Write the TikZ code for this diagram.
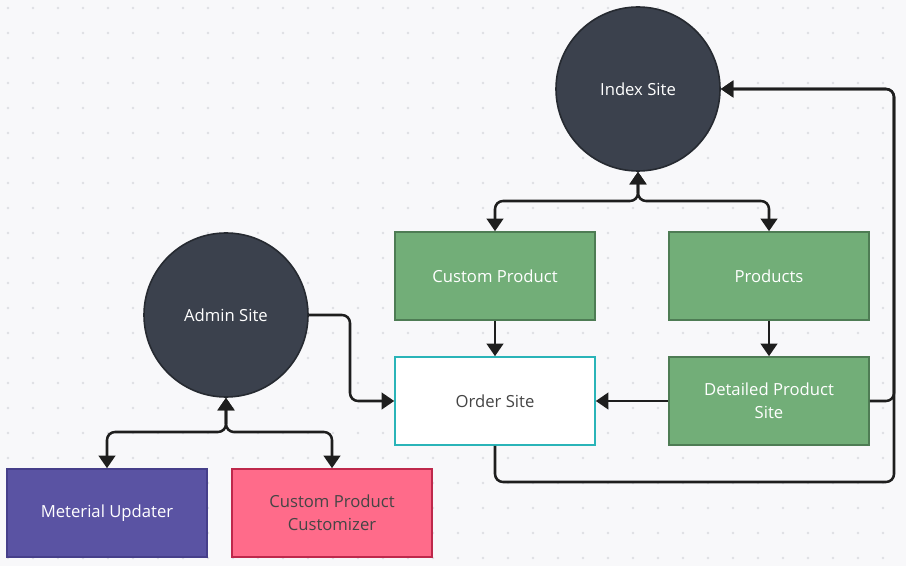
\documentclass[tikz,border=0pt]{standalone}
\usepackage{fontspec}
\setmainfont{Open Sans}
\usepackage{xcolor}
\usepackage{tikz}
\usetikzlibrary{positioning,arrows.meta}

\definecolor{paper}{HTML}{F8F8FA}
\definecolor{dotgray}{HTML}{DEDFE3}
\definecolor{sitefill}{HTML}{3B414D}
\definecolor{siteline}{HTML}{262A31}
\definecolor{greenfill}{HTML}{72AE78}
\definecolor{greenline}{HTML}{4E7C54}
\definecolor{tealline}{HTML}{2AB4B8}
\definecolor{purplefill}{HTML}{5A53A3}
\definecolor{purpleline}{HTML}{463F8A}
\definecolor{pinkfill}{HTML}{FF6B8A}
\definecolor{pinkline}{HTML}{BE284B}
\definecolor{darktext}{HTML}{454545}
\definecolor{linkblack}{HTML}{1E1E1E}

\begin{document}
\begin{tikzpicture}[x=0.75pt,y=-0.75pt,on grid=true,
    node/.style = {draw, line width=1.2pt, align=center, font=\fontsize{12.5}{17}\selectfont},
    site/.style = {node, circle, minimum size=123pt, fill=sitefill, draw=siteline, text=white},
    box/.style = {node, rectangle, minimum width=150pt, minimum height=66pt},
    green/.style = {box, fill=greenfill, draw=greenline, text=white},
    link/.style = {line width=1.9pt, draw=linkblack, rounded corners=6pt},
    >={Triangle[length=9.5pt,width=12.5pt]}]
      \useasboundingbox (0,0) rectangle (906,566);
      \fill[paper] (0,0) rectangle (906,566);
      \foreach \i in {0,...,35}
        \foreach \j in {0,...,22}
          \fill[dotgray] (8+25*\i,8+25*\j) circle (1.1pt);

      \node[site] (idx) at (638,89) {Index Site};
      \node[green] (cp) at (495,276) {Custom Product};
      \node[green] (prod) [right=205.5pt of cp] {Products};
      \node[box,fill=white,draw=tealline,text=darktext] (ord) [below=93.75pt of cp] {Order Site};
      \node[green] (det) [below=93.75pt of prod] {Detailed Product\\Site};

      \node[site] (adm) at (226,315) {Admin Site};
      \node[box,fill=purplefill,draw=purpleline,text=white] (mat) at (107,513) {Meterial Updater};
      \node[box,fill=pinkfill,draw=pinkline,text=darktext] (cpc) [right=168.75pt of mat] {Custom Product\\Customizer};

      \coordinate (isplit) at (638,201);
      \coordinate (asplit) at (226,432);
      \coordinate (amid) at (350,401);
      \coordinate (rail) at (894,482);

      \draw[link,<->] (idx) -- (isplit) -| (cp);
      \draw[link,<->] (idx) -- (isplit) -| (prod);
      \draw[link,->] (cp) -- (ord);
      \draw[link,->] (prod) -- (det);
      \draw[link,->] (det) -- (ord);
      \draw[link,->] (det) -- (det -| rail) |- (idx);
      \draw[link,->] (ord) |- (rail) |- (idx);

      \draw[link,->] (adm) -- (adm -| amid) |- (ord);
      \draw[link,<->] (adm) -- (asplit) -| (mat);
      \draw[link,<->] (adm) -- (asplit) -| (cpc);
    \end{tikzpicture}
\end{document}
